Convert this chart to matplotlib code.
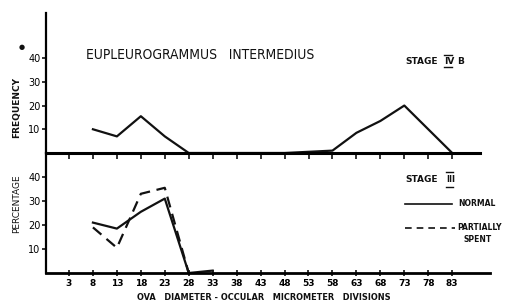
import numpy as np
import matplotlib.pyplot as plt
from matplotlib.lines import Line2D

# -------------------------
# Data
# -------------------------
ticks = [3, 8, 13, 18, 23, 28, 33, 38, 43, 48, 53, 58, 63, 68, 73, 78, 83]

# Stage IV B - frequency
x_ivb = [8, 13, 18, 23, 28, 33, 38, 43, 48, 53, 58, 63, 68, 73, 83]
y_ivb = [10, 7, 15.5, 7, 0, 0, 0, 0, 0, 0.5, 1, 8.5, 13.5, 20, 0]

# Stage III - percentage
x_normal = [8, 13, 18, 23, 28, 33]
y_normal = [21, 18.5, 25.5, 31, 0, 1]
x_spent = [8, 13, 18, 23, 28]
y_spent = [19, 10.5, 33, 35.5, 0]

W, H = 507, 307
fig = plt.figure(figsize=(W / 100, H / 100), dpi=100)
plt.rcParams["font.family"] = "DejaVu Sans"


def fx(px):
    return px / W


def fy(py):
    return 1 - py / H


ink = "#111111"
lw = 1.6

# -------------------------
# Top panel
# -------------------------
ax1 = fig.add_axes([fx(46), fy(153), fx(480) - fx(46), fy(13) - fy(153)])
ax1.plot(x_ivb, y_ivb, color=ink, lw=lw)
ax1.set_xlim(-1.8, 88.8)
ax1.set_ylim(0, 59)
ax1.set_xticks(ticks)
ax1.set_xticklabels([])
ax1.set_yticks([10, 20, 30, 40])
ax1.tick_params(axis="x", direction="out", length=4, width=1.2, color=ink)
ax1.tick_params(axis="y", direction="out", length=3, width=1.2, color=ink,
                labelsize=7, pad=1)
for s in ["top", "right"]:
    ax1.spines[s].set_visible(False)
ax1.spines["left"].set_linewidth(1.6)
ax1.spines["bottom"].set_linewidth(2.2)
ax1.patch.set_alpha(0)

# -------------------------
# Bottom panel
# -------------------------
ax2 = fig.add_axes([fx(46), fy(273), fx(490) - fx(46), fy(153) - fy(273)])
ax2.plot(x_normal, y_normal, color=ink, lw=lw, label="NORMAL")
ax2.plot(x_spent, y_spent, color=ink, lw=lw, ls=(0, (5, 3)), label="PARTIALLY SPENT")
ax2.set_xlim(-1.8, 90.9)
ax2.set_ylim(0, 50)
ax2.set_xticks(ticks)
ax2.set_xticklabels([str(t) for t in ticks], fontsize=6.5, fontweight="bold")
ax2.set_yticks([10, 20, 30, 40])
ax2.tick_params(axis="x", direction="inout", length=5, width=1.2, color=ink, pad=2)
ax2.tick_params(axis="y", direction="out", length=3, width=1.2, color=ink,
                labelsize=7, pad=1)
for s in ["top", "right"]:
    ax2.spines[s].set_visible(False)
ax2.spines["left"].set_linewidth(1.6)
ax2.spines["bottom"].set_linewidth(2.0)
ax2.patch.set_alpha(0)

# -------------------------
# Texts
# -------------------------
fig.text(fx(86), fy(55), "EUPLEUROGRAMMUS   INTERMEDIUS", fontsize=9.9,
         va="center", ha="left", fontstretch="condensed", color=ink)
fig.text(fx(405), fy(61), "STAGE", fontsize=6.5, fontweight="bold",
         va="center", color=ink)
fig.text(fx(444), fy(61), "IV", fontsize=6.5, fontweight="bold",
         va="center", color=ink)
fig.text(fx(457), fy(61), "B", fontsize=6.5, fontweight="bold",
         va="center", color=ink)
fig.add_artist(Line2D([fx(444), fx(452)], [fy(55), fy(55)], color=ink, lw=1))
fig.add_artist(Line2D([fx(444), fx(452)], [fy(67), fy(67)], color=ink, lw=1))

fig.text(fx(405), fy(179), "STAGE", fontsize=6.5, fontweight="bold",
         va="center", color=ink)
fig.text(fx(446), fy(179), "III", fontsize=6, fontweight="bold",
         va="center", color=ink)
fig.add_artist(Line2D([fx(446), fx(453)], [fy(172), fy(172)], color=ink, lw=1))
fig.add_artist(Line2D([fx(446), fx(453)], [fy(187), fy(187)], color=ink, lw=1))

# legend samples
fig.add_artist(Line2D([fx(405), fx(452)], [fy(204), fy(204)], color=ink, lw=1.2))
fig.text(fx(458), fy(204), "NORMAL", fontsize=5.5, fontweight="bold",
         va="center", color=ink)
fig.add_artist(Line2D([fx(405), fx(455)], [fy(228), fy(228)], color=ink, lw=1.2,
                      ls=(0, (4, 3))))
fig.text(fx(457), fy(228), "PARTIALLY", fontsize=5.5, fontweight="bold",
         va="center", color=ink)
fig.text(fx(463), fy(240), "SPENT", fontsize=5.5, fontweight="bold",
         va="center", color=ink)

# axis labels
fig.text(fx(17), fy(108), "FREQUENCY", rotation=90, fontsize=6.5,
         fontweight="bold", va="center", ha="center", color=ink)
fig.text(fx(17), fy(204), "PERCENTAGE", rotation=90, fontsize=6.5,
         va="center", ha="center", color=ink)
fig.text(fx(22), fy(47), "\u25cf", fontsize=5, va="center", ha="center", color=ink)
fig.text(fx(137), fy(297), "OVA   DIAMETER - OCCULAR   MICROMETER   DIVISIONS",
         fontsize=6.6, fontweight="bold", va="center", ha="left",
         fontstretch="condensed", color=ink)

fig.savefig("out.png", dpi=100)
